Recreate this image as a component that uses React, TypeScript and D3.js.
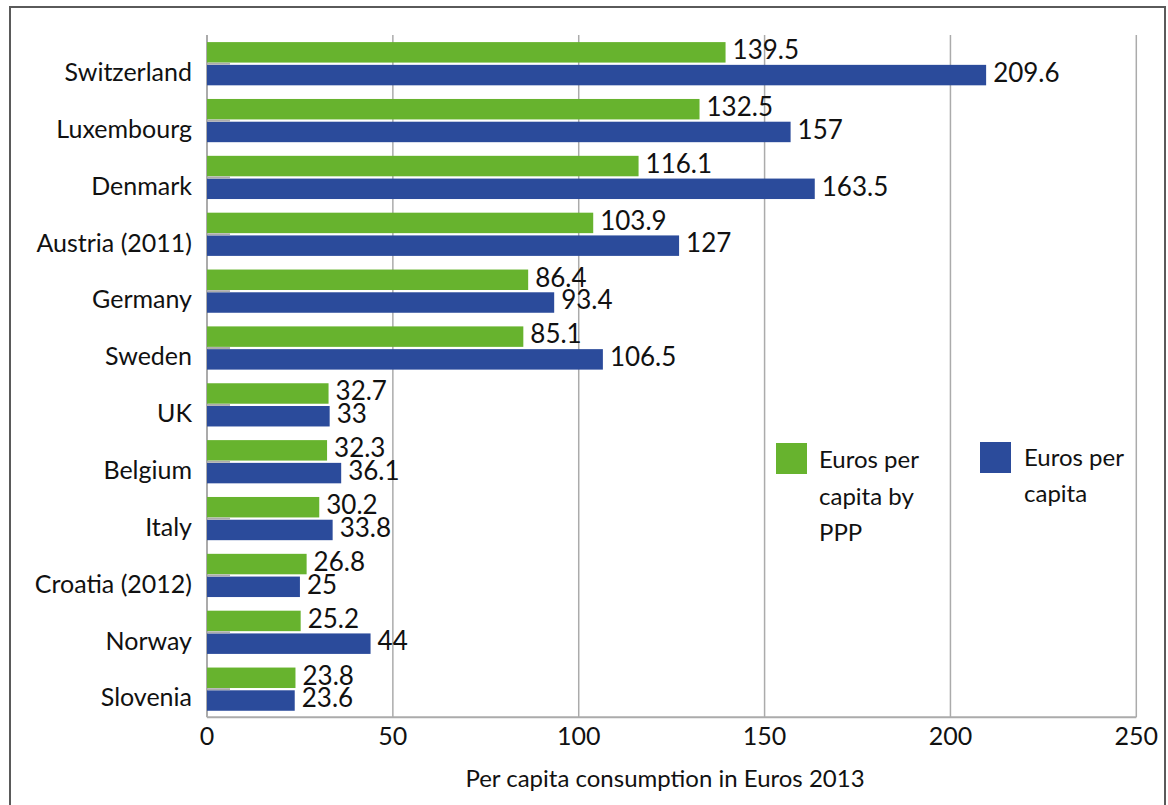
import React from "react";
import * as d3 from "d3";

const categories = [
  "Switzerland",
  "Luxembourg",
  "Denmark",
  "Austria (2011)",
  "Germany",
  "Sweden",
  "UK",
  "Belgium",
  "Italy",
  "Croatia (2012)",
  "Norway",
  "Slovenia",
];
const pppValues = [139.5, 132.5, 116.1, 103.9, 86.4, 85.1, 32.7, 32.3, 30.2, 26.8, 25.2, 23.8];
const euroValues = [209.6, 157, 163.5, 127, 93.4, 106.5, 33, 36.1, 33.8, 25, 44, 23.6];
const xTicks = [0, 50, 100, 150, 200, 250];
const seriesNames = ["Euros per capita by PPP", "Euros per capita"];

const GREEN = "#67b32e";
const BLUE = "#2b4b9b";
const GRID = "#ababab";
const TEXT = "#111";
const FONT = "Lato, 'Open Sans', sans-serif";

export default function App() {
  const W = 1168;
  const H = 805;
  const left = 207;
  const right = 1136.3;
  const top = 35;
  const bottom = 717.3;

  const x = d3.scaleLinear().domain([0, 250]).range([left, right]);
  const y = d3.scaleBand<string>().domain(categories).range([top, bottom]).paddingInner(0).paddingOuter(0);
  const bw = y.bandwidth();
  const sub = d3
    .scaleBand<string>()
    .domain(["ppp", "eur"])
    .range([bw * 0.125, bw * 0.885])
    .paddingInner(0.1)
    .paddingOuter(0);

  const series = [
    { key: "ppp", values: pppValues, color: GREEN },
    { key: "eur", values: euroValues, color: BLUE },
  ];

  return (
    <svg
      width={W}
      height={H}
      style={{ position: "absolute", left: 0, top: 0, background: "#fff" }}
      fontFamily={FONT}
    >
      <rect x={10} y={7} width={1155} height={830} fill="#fff" stroke="#5a5a5a" strokeWidth={2} />

      {/* gridlines */}
      {xTicks.slice(1).map((t) => (
        <line key={t} x1={x(t)} x2={x(t)} y1={top} y2={bottom} stroke={GRID} strokeWidth={1.5} />
      ))}
      <line x1={left} x2={left} y1={top} y2={bottom} stroke={GRID} strokeWidth={2} />
      <line x1={left} x2={right} y1={bottom} y2={bottom} stroke={GRID} strokeWidth={2} />

      {/* bars */}
      {categories.map((c, i) => {
        const y0 = y(c)!;
        return (
          <g key={c}>
            {series.map((s) => {
              const v = s.values[i];
              const by = y0 + sub(s.key)!;
              const bh = sub.bandwidth();
              return (
                <g key={s.key}>
                  <rect x={x(0)} y={by} width={x(v) - x(0)} height={bh} fill={s.color} />
                  <text x={x(v) + 7} y={by + bh - 3.5} fontSize={26} fill={TEXT}>
                    {v}
                  </text>
                </g>
              );
            })}
            <line
              x1={left}
              x2={left + 23}
              y1={y0 + sub("eur")! - 1.1}
              y2={y0 + sub("eur")! - 1.1}
              stroke={GRID}
              strokeWidth={2}
            />
            <text x={192} y={y0 + 46} textAnchor="end" fontSize={25} fill={TEXT}>
              {c}
            </text>
          </g>
        );
      })}

      {/* x ticks */}
      {xTicks.map((t) => (
        <text key={t} x={x(t)} y={745} textAnchor="middle" fontSize={25} fill={TEXT}>
          {t}
        </text>
      ))}
      <text x={665} y={787} textAnchor="middle" fontSize={24} fill={TEXT}>
        Per capita consumption in Euros 2013
      </text>

      {/* legend */}
      <rect x={776} y={443} width={31} height={31} fill={GREEN} />
      <text x={819} y={468} fontSize={24} fill={TEXT}>
        <tspan x={819} dy={0}>Euros per</tspan>
        <tspan x={819} dy={36.5}>capita by</tspan>
        <tspan x={819} dy={36.5}>PPP</tspan>
      </text>
      <rect x={980} y={442} width={31} height={31} fill={BLUE} />
      <text x={1024} y={466} fontSize={24} fill={TEXT}>
        <tspan x={1024} dy={0}>Euros per</tspan>
        <tspan x={1024} dy={36}>capita</tspan>
      </text>
      <title>{seriesNames.join(" / ")}</title>
    </svg>
  );
}
